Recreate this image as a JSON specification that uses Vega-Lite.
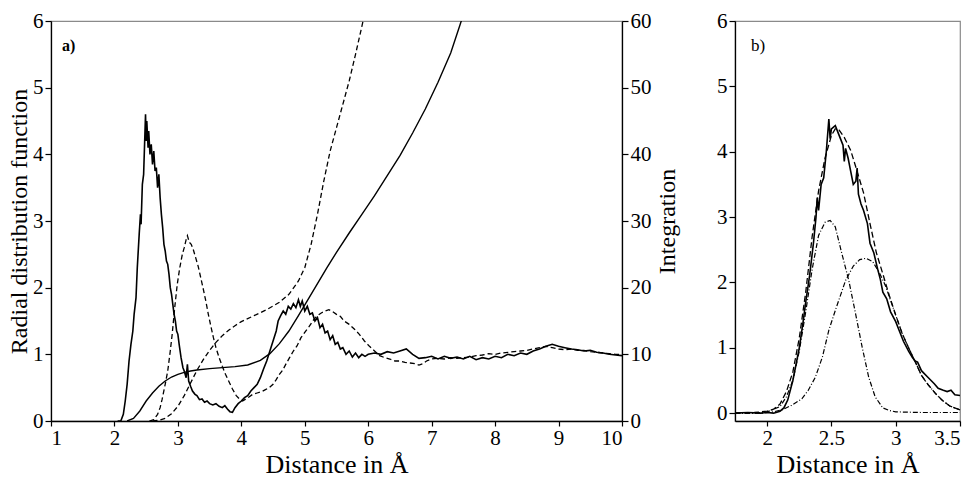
{
  "$schema": "https://vega.github.io/schema/vega-lite/v6.json",
  "padding": {"left": 6, "top": 9, "right": 5, "bottom": 3},
  "background": "white",
  "config": {
    "font": "Liberation Serif",
    "view": {"stroke": "#8a8a8a", "strokeWidth": 1.2},
    "axis": {
      "grid": false,
      "labelFont": "Liberation Serif",
      "titleFont": "Liberation Serif",
      "labelFontSize": 21,
      "titleFontSize": 24,
      "titleFontWeight": "normal",
      "labelColor": "#000",
      "titleColor": "#000",
      "domainColor": "#000",
      "tickColor": "#000",
      "domainWidth": 1.3,
      "tickWidth": 1.2,
      "tickSize": 6,
      "labelPadding": 2
    },
    "concat": {"spacing": 35}
  },
  "datasets": {
    "g1a": [
      {"r":2.05,"v":0},{"r":2.1,"v":0},{"r":2.14,"v":0.1},{"r":2.17,"v":0.3},{"r":2.2,"v":0.55},{"r":2.23,"v":0.9},{"r":2.26,"v":1.15},{"r":2.29,"v":1.35},{"r":2.31,"v":1.6},{"r":2.34,"v":1.85},{"r":2.36,"v":2.3},{"r":2.39,"v":2.8},{"r":2.41,"v":3.1},{"r":2.42,"v":2.95},{"r":2.44,"v":3.55},{"r":2.46,"v":3.7},{"r":2.48,"v":4.3},{"r":2.49,"v":4.6},{"r":2.5,"v":4.2},{"r":2.51,"v":4.5},{"r":2.53,"v":4.1},{"r":2.54,"v":4.35},{"r":2.56,"v":4.0},{"r":2.58,"v":4.15},{"r":2.6,"v":3.85},{"r":2.62,"v":4.05},{"r":2.64,"v":3.75},{"r":2.66,"v":3.8},{"r":2.68,"v":3.5},{"r":2.7,"v":3.7},{"r":2.72,"v":3.35},{"r":2.74,"v":3.1},{"r":2.76,"v":2.9},{"r":2.78,"v":2.65},{"r":2.8,"v":2.55},{"r":2.82,"v":2.4},{"r":2.84,"v":2.35},{"r":2.86,"v":2.2},{"r":2.88,"v":2.0},{"r":2.9,"v":1.9},{"r":2.92,"v":1.75},{"r":2.94,"v":1.6},{"r":2.96,"v":1.5},{"r":2.98,"v":1.35},{"r":3.0,"v":1.3},{"r":3.02,"v":1.15},{"r":3.05,"v":0.95},{"r":3.08,"v":0.8},{"r":3.1,"v":0.75},{"r":3.13,"v":0.65},{"r":3.15,"v":0.85},{"r":3.17,"v":0.6},{"r":3.2,"v":0.52},{"r":3.23,"v":0.45},{"r":3.27,"v":0.4},{"r":3.3,"v":0.38},{"r":3.34,"v":0.32},{"r":3.38,"v":0.33},{"r":3.42,"v":0.28},{"r":3.46,"v":0.3},{"r":3.5,"v":0.26},{"r":3.55,"v":0.24},{"r":3.6,"v":0.26},{"r":3.65,"v":0.22},{"r":3.7,"v":0.2},{"r":3.74,"v":0.23},{"r":3.78,"v":0.18},{"r":3.82,"v":0.14},{"r":3.86,"v":0.13},{"r":3.9,"v":0.2},{"r":3.95,"v":0.26},{"r":4.0,"v":0.3},{"r":4.05,"v":0.35},{"r":4.1,"v":0.38},{"r":4.15,"v":0.45},{"r":4.2,"v":0.5},{"r":4.25,"v":0.55},{"r":4.3,"v":0.65},{"r":4.35,"v":0.78},{"r":4.4,"v":0.9},{"r":4.45,"v":1.05},{"r":4.5,"v":1.2},{"r":4.55,"v":1.35},{"r":4.58,"v":1.5},{"r":4.62,"v":1.58},{"r":4.66,"v":1.65},{"r":4.7,"v":1.6},{"r":4.74,"v":1.72},{"r":4.78,"v":1.68},{"r":4.82,"v":1.76},{"r":4.86,"v":1.7},{"r":4.9,"v":1.82},{"r":4.93,"v":1.72},{"r":4.96,"v":1.8},{"r":5.0,"v":1.65},{"r":5.04,"v":1.72},{"r":5.08,"v":1.6},{"r":5.12,"v":1.62},{"r":5.16,"v":1.5},{"r":5.2,"v":1.55},{"r":5.24,"v":1.4},{"r":5.28,"v":1.45},{"r":5.32,"v":1.32},{"r":5.36,"v":1.35},{"r":5.4,"v":1.22},{"r":5.44,"v":1.28},{"r":5.48,"v":1.15},{"r":5.52,"v":1.18},{"r":5.56,"v":1.08},{"r":5.6,"v":1.1},{"r":5.65,"v":1.0},{"r":5.7,"v":1.05},{"r":5.75,"v":0.96},{"r":5.8,"v":1.02},{"r":5.85,"v":0.95},{"r":5.9,"v":1.0},{"r":5.95,"v":0.97},{"r":6.0,"v":1.0},{"r":6.1,"v":1.02},{"r":6.2,"v":1.0},{"r":6.3,"v":1.04},{"r":6.4,"v":1.02},{"r":6.5,"v":1.05},{"r":6.6,"v":1.08},{"r":6.65,"v":1.04},{"r":6.7,"v":1.0},{"r":6.8,"v":0.94},{"r":6.9,"v":0.95},{"r":7.0,"v":0.97},{"r":7.1,"v":0.93},{"r":7.2,"v":0.97},{"r":7.3,"v":0.94},{"r":7.4,"v":0.96},{"r":7.5,"v":0.93},{"r":7.6,"v":0.97},{"r":7.7,"v":0.92},{"r":7.8,"v":0.95},{"r":7.9,"v":0.93},{"r":8.0,"v":0.97},{"r":8.1,"v":0.95},{"r":8.2,"v":1.0},{"r":8.3,"v":0.98},{"r":8.4,"v":1.02},{"r":8.5,"v":1.0},{"r":8.6,"v":1.05},{"r":8.7,"v":1.08},{"r":8.8,"v":1.12},{"r":8.9,"v":1.15},{"r":9.0,"v":1.12},{"r":9.1,"v":1.1},{"r":9.2,"v":1.08},{"r":9.3,"v":1.07},{"r":9.4,"v":1.05},{"r":9.5,"v":1.06},{"r":9.6,"v":1.03},{"r":9.7,"v":1.02},{"r":9.8,"v":1.0},{"r":9.9,"v":0.99},{"r":10,"v":0.98}
    ],
    "g2a": [
      {"r":2.55,"v":0},{"r":2.62,"v":0.02},{"r":2.68,"v":0.1},{"r":2.72,"v":0.2},{"r":2.75,"v":0.32},{"r":2.8,"v":0.55},{"r":2.84,"v":0.75},{"r":2.88,"v":1.05},{"r":2.91,"v":1.3},{"r":2.95,"v":1.7},{"r":2.99,"v":2.05},{"r":3.03,"v":2.3},{"r":3.07,"v":2.5},{"r":3.1,"v":2.6},{"r":3.13,"v":2.72},{"r":3.15,"v":2.78},{"r":3.18,"v":2.68},{"r":3.21,"v":2.65},{"r":3.24,"v":2.58},{"r":3.28,"v":2.45},{"r":3.32,"v":2.32},{"r":3.36,"v":2.15},{"r":3.4,"v":1.98},{"r":3.44,"v":1.8},{"r":3.48,"v":1.6},{"r":3.52,"v":1.42},{"r":3.56,"v":1.25},{"r":3.6,"v":1.1},{"r":3.65,"v":0.95},{"r":3.7,"v":0.82},{"r":3.75,"v":0.7},{"r":3.8,"v":0.6},{"r":3.86,"v":0.48},{"r":3.92,"v":0.38},{"r":3.97,"v":0.33},{"r":4.02,"v":0.3},{"r":4.07,"v":0.33},{"r":4.12,"v":0.36},{"r":4.18,"v":0.4},{"r":4.25,"v":0.42},{"r":4.32,"v":0.44},{"r":4.38,"v":0.47},{"r":4.44,"v":0.5},{"r":4.5,"v":0.55},{"r":4.55,"v":0.62},{"r":4.6,"v":0.7},{"r":4.65,"v":0.76},{"r":4.7,"v":0.85},{"r":4.76,"v":0.95},{"r":4.82,"v":1.05},{"r":4.88,"v":1.13},{"r":4.94,"v":1.25},{"r":5.0,"v":1.33},{"r":5.07,"v":1.42},{"r":5.14,"v":1.52},{"r":5.2,"v":1.58},{"r":5.26,"v":1.62},{"r":5.32,"v":1.65},{"r":5.38,"v":1.67},{"r":5.44,"v":1.64},{"r":5.5,"v":1.6},{"r":5.56,"v":1.57},{"r":5.62,"v":1.5},{"r":5.7,"v":1.45},{"r":5.78,"v":1.38},{"r":5.86,"v":1.3},{"r":5.94,"v":1.2},{"r":6.02,"v":1.12},{"r":6.1,"v":1.05},{"r":6.18,"v":0.98},{"r":6.26,"v":0.95},{"r":6.34,"v":0.93},{"r":6.42,"v":0.9},{"r":6.5,"v":0.9},{"r":6.58,"v":0.88},{"r":6.66,"v":0.87},{"r":6.74,"v":0.86},{"r":6.8,"v":0.84},{"r":6.86,"v":0.86},{"r":6.92,"v":0.9},{"r":7.0,"v":0.93},{"r":7.1,"v":0.94},{"r":7.2,"v":0.93},{"r":7.3,"v":0.95},{"r":7.4,"v":0.94},{"r":7.5,"v":0.95},{"r":7.6,"v":0.96},{"r":7.7,"v":0.98},{"r":7.8,"v":0.99},{"r":7.9,"v":1.01},{"r":8.0,"v":1.0},{"r":8.1,"v":1.02},{"r":8.2,"v":1.03},{"r":8.3,"v":1.04},{"r":8.4,"v":1.05},{"r":8.5,"v":1.06},{"r":8.6,"v":1.08},{"r":8.7,"v":1.1},{"r":8.8,"v":1.12},{"r":8.9,"v":1.1},{"r":9.0,"v":1.08},{"r":9.1,"v":1.07},{"r":9.2,"v":1.08},{"r":9.3,"v":1.06},{"r":9.4,"v":1.06},{"r":9.5,"v":1.04},{"r":9.6,"v":1.03},{"r":9.7,"v":1.02},{"r":9.8,"v":1.01},{"r":9.9,"v":1.0},{"r":10,"v":1.0}
    ],
    "n1": [
      {"r":2.2,"v":0},{"r":2.3,"v":0.4},{"r":2.4,"v":1.5},{"r":2.5,"v":3.0},{"r":2.6,"v":4.2},{"r":2.7,"v":5.2},{"r":2.8,"v":6.0},{"r":2.9,"v":6.6},{"r":3.0,"v":7.0},{"r":3.1,"v":7.3},{"r":3.2,"v":7.5},{"r":3.3,"v":7.65},{"r":3.5,"v":7.85},{"r":3.7,"v":8.0},{"r":3.9,"v":8.15},{"r":4.1,"v":8.4},{"r":4.3,"v":9.1},{"r":4.45,"v":10.1},{"r":4.6,"v":11.6},{"r":4.75,"v":13.5},{"r":4.9,"v":15.8},{"r":5.05,"v":18.2},{"r":5.2,"v":20.6},{"r":5.35,"v":23.0},{"r":5.5,"v":25.3},{"r":5.7,"v":28.2},{"r":5.9,"v":31},{"r":6.1,"v":33.8},{"r":6.3,"v":36.8},{"r":6.5,"v":39.8},{"r":6.7,"v":43.2},{"r":6.9,"v":46.8},{"r":7.1,"v":50.8},{"r":7.3,"v":55.2},{"r":7.45,"v":59.5},{"r":7.6,"v":64}
    ],
    "n2": [
      {"r":2.6,"v":0},{"r":2.7,"v":0.1},{"r":2.8,"v":0.4},{"r":2.9,"v":1.1},{"r":3.0,"v":2.2},{"r":3.1,"v":3.8},{"r":3.2,"v":5.7},{"r":3.3,"v":7.6},{"r":3.4,"v":9.2},{"r":3.5,"v":10.6},{"r":3.6,"v":11.8},{"r":3.7,"v":12.8},{"r":3.8,"v":13.6},{"r":3.9,"v":14.3},{"r":4.0,"v":14.9},{"r":4.2,"v":15.8},{"r":4.4,"v":16.7},{"r":4.6,"v":17.8},{"r":4.75,"v":19.0},{"r":4.9,"v":21.0},{"r":5.0,"v":23.0},{"r":5.1,"v":26.5},{"r":5.2,"v":31.0},{"r":5.3,"v":36.0},{"r":5.4,"v":40.5},{"r":5.5,"v":44},{"r":5.6,"v":47.5},{"r":5.7,"v":51},{"r":5.8,"v":55},{"r":5.9,"v":59.2},{"r":6.0,"v":63.5}
    ],
    "gb": [
      {"r":1.75,"v":0.0},{"r":1.85,"v":0.01},{"r":1.95,"v":0.0},{"r":2.0,"v":0.01},{"r":2.05,"v":0.0},{"r":2.1,"v":0.03},{"r":2.13,"v":0.08},{"r":2.16,"v":0.2},{"r":2.2,"v":0.5},{"r":2.25,"v":1.0},{"r":2.28,"v":1.4},{"r":2.3,"v":1.7},{"r":2.33,"v":2.1},{"r":2.36,"v":2.6},{"r":2.38,"v":3.0},{"r":2.39,"v":3.3},{"r":2.4,"v":3.1},{"r":2.42,"v":3.5},{"r":2.44,"v":3.6},{"r":2.46,"v":4.0},{"r":2.48,"v":4.5},{"r":2.49,"v":4.2},{"r":2.5,"v":4.35},{"r":2.53,"v":4.4},{"r":2.55,"v":4.3},{"r":2.57,"v":4.2},{"r":2.59,"v":4.1},{"r":2.6,"v":3.85},{"r":2.61,"v":4.05},{"r":2.63,"v":3.9},{"r":2.65,"v":3.7},{"r":2.67,"v":3.5},{"r":2.69,"v":3.55},{"r":2.7,"v":3.75},{"r":2.71,"v":3.35},{"r":2.73,"v":3.2},{"r":2.75,"v":3.1},{"r":2.78,"v":2.9},{"r":2.8,"v":2.6},{"r":2.83,"v":2.45},{"r":2.86,"v":2.2},{"r":2.88,"v":2.05},{"r":2.9,"v":1.85},{"r":2.93,"v":1.75},{"r":2.96,"v":1.55},{"r":3.0,"v":1.4},{"r":3.03,"v":1.25},{"r":3.06,"v":1.1},{"r":3.1,"v":0.95},{"r":3.13,"v":0.85},{"r":3.15,"v":0.8},{"r":3.17,"v":0.78},{"r":3.2,"v":0.65},{"r":3.25,"v":0.55},{"r":3.3,"v":0.45},{"r":3.33,"v":0.38},{"r":3.37,"v":0.35},{"r":3.4,"v":0.33},{"r":3.43,"v":0.35},{"r":3.46,"v":0.28},{"r":3.5,"v":0.27}
    ],
    "fit": [
      {"r":1.75,"v":0.0},{"r":1.9,"v":0.01},{"r":2.0,"v":0.03},{"r":2.05,"v":0.06},{"r":2.1,"v":0.14},{"r":2.15,"v":0.33},{"r":2.2,"v":0.63},{"r":2.25,"v":1.15},{"r":2.3,"v":1.85},{"r":2.35,"v":2.7},{"r":2.4,"v":3.4},{"r":2.45,"v":3.9},{"r":2.5,"v":4.25},{"r":2.53,"v":4.35},{"r":2.56,"v":4.33},{"r":2.6,"v":4.22},{"r":2.65,"v":4.02},{"r":2.7,"v":3.7},{"r":2.75,"v":3.37},{"r":2.8,"v":2.9},{"r":2.85,"v":2.45},{"r":2.9,"v":2.13},{"r":2.95,"v":1.8},{"r":3.0,"v":1.5},{"r":3.05,"v":1.22},{"r":3.1,"v":1.0},{"r":3.16,"v":0.75},{"r":3.2,"v":0.58},{"r":3.25,"v":0.44},{"r":3.31,"v":0.3},{"r":3.36,"v":0.2},{"r":3.42,"v":0.11},{"r":3.5,"v":0.05}
    ],
    "ga1": [
      {"r":1.75,"v":0.0},{"r":1.9,"v":0.0},{"r":2.0,"v":0.02},{"r":2.1,"v":0.1},{"r":2.15,"v":0.25},{"r":2.2,"v":0.5},{"r":2.25,"v":0.95},{"r":2.3,"v":1.55},{"r":2.35,"v":2.2},{"r":2.4,"v":2.72},{"r":2.45,"v":2.92},{"r":2.49,"v":2.95},{"r":2.53,"v":2.85},{"r":2.58,"v":2.45},{"r":2.635,"v":2.03},{"r":2.69,"v":1.5},{"r":2.74,"v":1.0},{"r":2.79,"v":0.55},{"r":2.84,"v":0.25},{"r":2.9,"v":0.08},{"r":2.95,"v":0.04},{"r":3.0,"v":0.02},{"r":3.2,"v":0.01},{"r":3.5,"v":0.01}
    ],
    "ga2": [
      {"r":1.75,"v":0.0},{"r":1.95,"v":0.0},{"r":2.05,"v":0.02},{"r":2.115,"v":0.05},{"r":2.19,"v":0.12},{"r":2.27,"v":0.22},{"r":2.32,"v":0.35},{"r":2.375,"v":0.55},{"r":2.43,"v":0.86},{"r":2.48,"v":1.27},{"r":2.53,"v":1.57},{"r":2.61,"v":2.03},{"r":2.67,"v":2.25},{"r":2.72,"v":2.35},{"r":2.77,"v":2.37},{"r":2.82,"v":2.32},{"r":2.87,"v":2.16},{"r":2.92,"v":1.95},{"r":3.0,"v":1.5},{"r":3.05,"v":1.22},{"r":3.1,"v":1.0},{"r":3.16,"v":0.75},{"r":3.2,"v":0.58},{"r":3.25,"v":0.44},{"r":3.31,"v":0.3},{"r":3.36,"v":0.2},{"r":3.42,"v":0.11},{"r":3.5,"v":0.05}
    ],
    "labA": [{"r":1.28,"v":5.62,"t":"a)"}],
    "labB": [{"r":1.93,"v":5.62,"t":"b)"}]
  },
  "hconcat": [
    {
      "width": 571,
      "height": 400,
      "encoding": {
        "x": {"field": "r", "type": "quantitative", "scale": {"domain": [1, 10], "nice": false, "zero": false},
              "axis": {"values": [1,2,3,4,5,6,7,8,9,10], "title": "Distance in Å", "titleFontSize": 26, "titlePadding": 3, "tickSize": 5, "labelPadding": 1}}
      },
      "layer": [
        {
          "encoding": {
            "y": {"field": "v", "type": "quantitative", "scale": {"domain": [0, 6], "nice": false},
                  "axis": {"values": [0,1,2,3,4,5,6], "title": "Radial distribution function", "titlePadding": 1, "orient": "left"}}
          },
          "layer": [
            {"data": {"name": "g1a"}, "mark": {"type": "line", "color": "#000", "strokeWidth": 1.6, "clip": true}},
            {"data": {"name": "g2a"}, "mark": {"type": "line", "color": "#000", "strokeWidth": 1.3, "strokeDash": [5, 3], "clip": true}},
            {"data": {"name": "labA"}, "mark": {"type": "text", "fontWeight": "bold", "fontSize": 16, "color": "#000", "font": "Liberation Serif"},
             "encoding": {"text": {"field": "t"}}}
          ]
        },
        {
          "encoding": {
            "y": {"field": "v", "type": "quantitative", "scale": {"domain": [0, 60], "nice": false},
                  "axis": {"values": [0,10,20,30,40,50,60], "title": "Integration", "orient": "right", "titleAngle": 270, "titleX": 45, "titleY": 200, "titleAlign": "center", "titleBaseline": "middle", "labelPadding": 2}}
          },
          "layer": [
            {"data": {"name": "n1"}, "mark": {"type": "line", "color": "#000", "strokeWidth": 1.4, "clip": true}},
            {"data": {"name": "n2"}, "mark": {"type": "line", "color": "#000", "strokeWidth": 1.3, "strokeDash": [5, 3], "clip": true}}
          ]
        }
      ],
      "resolve": {"scale": {"y": "independent"}}
    },
    {
      "width": 225,
      "height": 400,
      "encoding": {
        "x": {"field": "r", "type": "quantitative", "scale": {"domain": [1.75, 3.5], "nice": false, "zero": false},
              "axis": {"values": [2, 2.5, 3, 3.5], "format": "~g", "title": "Distance in Å", "titleFontSize": 26, "titlePadding": 3, "tickSize": 5, "labelPadding": 1}},
        "y": {"field": "v", "type": "quantitative", "scale": {"domain": [-0.12, 6], "nice": false, "zero": false},
              "axis": {"values": [0,1,2,3,4,5,6], "title": null}}
      },
      "layer": [
        {"data": {"name": "ga1"}, "mark": {"type": "line", "color": "#000", "strokeWidth": 1.2, "strokeDash": [5, 2, 1, 2]}},
        {"data": {"name": "ga2"}, "mark": {"type": "line", "color": "#000", "strokeWidth": 1.2, "strokeDash": [5, 2, 1, 2]}},
        {"data": {"name": "fit"}, "mark": {"type": "line", "color": "#000", "strokeWidth": 1.3, "strokeDash": [6, 3]}},
        {"data": {"name": "gb"}, "mark": {"type": "line", "color": "#000", "strokeWidth": 1.6}},
        {"data": {"name": "labB"}, "mark": {"type": "text", "fontSize": 17, "color": "#000", "font": "Liberation Serif"},
         "encoding": {"text": {"field": "t"}}}
      ]
    }
  ]
}
